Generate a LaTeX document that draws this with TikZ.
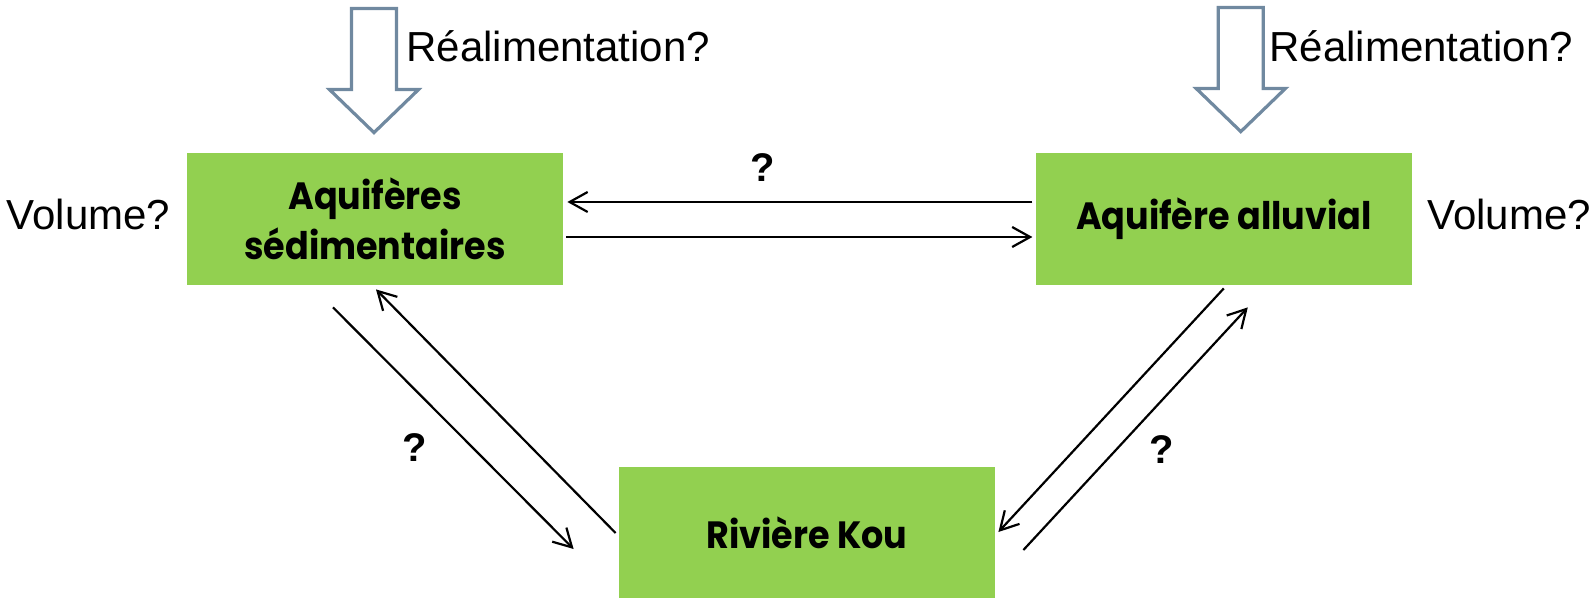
\documentclass[tikz,border=0pt]{standalone}
\usepackage{fontspec}
\setmainfont{Liberation Sans}
\newfontfamily\boxfont[FakeStretch=0.92]{Poppins}
\usetikzlibrary{arrows.meta, positioning, calc}
\definecolor{kougreen}{HTML}{92D050}
\definecolor{kouslate}{HTML}{7089A0}

\begin{document}
\begin{tikzpicture}[
    aquifer/.style={rectangle, fill=kougreen, minimum width=188pt, minimum height=66pt, inner sep=0pt, align=center, font=\boxfont\bfseries\fontsize{19}{25}\selectfont},
    flux/.style={-{Straight Barb[length=9pt, width=10pt]}, line width=1.1pt, black},
    recharge/.style={draw=kouslate, line width=1.6pt, fill=white, line join=miter},
    note/.style={font=\fontsize{21}{25}\selectfont, inner sep=0pt},
    query/.style={font=\bfseries\fontsize{20}{24}\selectfont, inner sep=0pt}
]
\useasboundingbox (0,0) rectangle (798pt,-299pt);

% The three boxes
\node[aquifer] (sed) at (187.5pt,-109.5pt) {Aquifères\\sédimentaires};
\node[aquifer, right=236pt of sed] (alv) {Aquifère alluvial};
\node[aquifer] (kou) at (403.5pt,-266.5pt) {Rivière Kou};

% Volumes
\node[note, anchor=base east] (volsed) at ([shift={(-8pt,-5.5pt)}]sed.west) {Volume?};
\node[note, anchor=base west] (volalv) at ([shift={(7.5pt,-5.5pt)}]alv.east) {Volume?};

% Recharge arrows
\draw[recharge, shift={([shift={(-0.5pt,10pt)}]sed.north)}] (0,0) -- (-22.25pt,21.5pt) -- (-11.25pt,21.5pt) -- (-11.25pt,62pt) -- (11.25pt,62pt) -- (11.25pt,21.5pt) -- (22.25pt,21.5pt) -- cycle;
\draw[recharge, shift={([shift={(8.5pt,10.5pt)}]alv.north)}] (0,0) -- (-22.25pt,21.5pt) -- (-11.25pt,21.5pt) -- (-11.25pt,62pt) -- (11.25pt,62pt) -- (11.25pt,21.5pt) -- (22.25pt,21.5pt) -- cycle;
\node[note, anchor=base west] (rechsed) at (203pt,-31pt) {Réalimentation?};
\node[note, anchor=base west] (rechalv) at (634.5pt,-31pt) {Réalimentation?};

% Exchanges between the aquifers
\draw[flux] ([shift={(-1.5pt,8.5pt)}]alv.west) -- ([shift={(2pt,8.5pt)}]sed.east);
\draw[flux] ([shift={(1.5pt,-9pt)}]sed.east) -- ([shift={(-1.5pt,-9pt)}]alv.west);
\node[query] (qtop) at (381.5pt,-84pt) {?};

% Exchanges with the river
\draw[flux] ([shift={(-21pt,-11pt)}]sed.south) -- ([shift={(-22.5pt,-8pt)}]kou.west);
\draw[flux] ([shift={(-1.5pt,0pt)}]kou.west) -- ([shift={(0.5pt,-2pt)}]sed.south);
\draw[flux] ([shift={(0pt,-1.5pt)}]alv.south) -- ([shift={(1.5pt,0.5pt)}]kou.east);
\draw[flux] ([shift={(14pt,-8.5pt)}]kou.east) -- ([shift={(12pt,-11pt)}]alv.south);
\node[query] (qleft) at (207.5pt,-224pt) {?};
\node[query] (qright) at (581pt,-225pt) {?};

\end{tikzpicture}
\end{document}
